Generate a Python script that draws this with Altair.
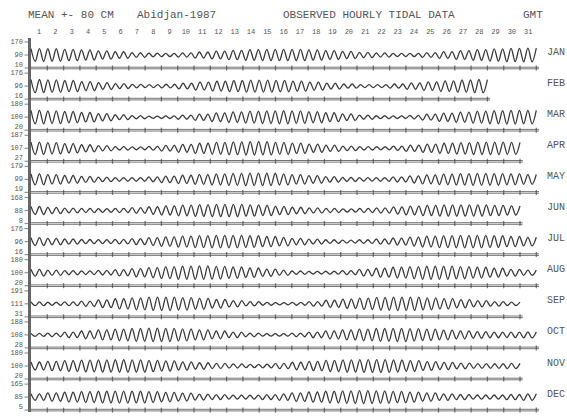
import altair as alt
import numpy as np
import pandas as pd

# ---- data -----------------------------------------------------------------
MONTHS = ["JAN", "FEB", "MAR", "APR", "MAY", "JUN",
          "JUL", "AUG", "SEP", "OCT", "NOV", "DEC"]
DAYS_IN_MONTH = [31, 28, 31, 30, 31, 30, 31, 31, 30, 31, 30, 31]
MONTHLY_MEAN_CM = [90, 96, 100, 107, 99, 88, 96, 100, 111, 108, 100, 85]
HALF_SPAN_CM = 80
DAY_LABELS = [str(d) for d in range(1, 32)]

# daily tidal range (high water minus low water, cm), one value per day
RANGE_JAN = [79, 77, 70, 62, 51, 40, 28, 22, 21, 26, 37, 48, 58, 65, 69, 70,
             69, 63, 55, 44, 33, 25, 19, 21, 30, 42, 55, 66, 75, 81, 84]
RANGE_FEB = [81, 77, 69, 56, 42, 30, 21, 18, 23, 35, 48, 60, 69, 74, 74, 70,
             62, 49, 37, 26, 19, 19, 26, 40, 53, 65, 75, 81]
RANGE_MAR = [83, 79, 70, 58, 44, 30, 19, 14, 16, 25, 39, 53, 65, 74, 79, 81,
             77, 69, 55, 40, 26, 18, 16, 23, 37, 51, 63, 74, 81, 84, 83]
RANGE_APR = [76, 69, 58, 44, 32, 21, 18, 23, 35, 49, 62, 72, 79, 83, 81, 74,
             63, 51, 39, 28, 21, 19, 26, 39, 51, 62, 70, 76, 77, 74]
RANGE_MAY = [67, 58, 48, 37, 28, 23, 23, 30, 40, 51, 60, 69, 74, 77, 76, 69,
             58, 46, 35, 26, 21, 23, 32, 44, 56, 65, 70, 74, 72, 67, 60]
RANGE_JUN = [49, 39, 30, 25, 23, 26, 35, 46, 56, 65, 72, 76, 76, 70, 62, 51,
             40, 32, 25, 21, 25, 33, 44, 55, 63, 69, 70, 69, 63, 56]
RANGE_JUL = [48, 39, 32, 26, 25, 28, 37, 48, 58, 67, 74, 77, 77, 72, 63, 53,
             40, 30, 23, 19, 23, 32, 44, 56, 67, 74, 77, 77, 72, 63, 53]
RANGE_AUG = [42, 32, 25, 23, 28, 39, 51, 63, 74, 81, 83, 79, 70, 58, 44, 32,
             21, 16, 18, 26, 40, 55, 67, 76, 81, 81, 76, 67, 55, 42, 32]
RANGE_SEP = [23, 19, 23, 33, 48, 62, 74, 81, 83, 77, 67, 53, 39, 26, 18, 14,
             18, 28, 44, 58, 70, 79, 83, 81, 74, 63, 51, 39, 28, 21]
RANGE_OCT = [19, 23, 33, 48, 62, 72, 79, 83, 81, 74, 62, 48, 33, 23, 16, 16,
             23, 35, 49, 62, 72, 79, 81, 77, 70, 60, 49, 40, 35, 33, 37]
RANGE_NOV = [49, 58, 67, 72, 76, 77, 76, 70, 62, 51, 40, 32, 25, 21, 23, 33,
             46, 58, 69, 76, 79, 79, 74, 65, 55, 44, 35, 30, 28, 32]
RANGE_DEC = [40, 51, 60, 67, 72, 74, 72, 67, 58, 48, 37, 30, 25, 25, 30, 40,
             53, 63, 72, 77, 79, 77, 70, 62, 51, 40, 32, 26, 26, 32, 40]
DAILY_RANGE_CM = [RANGE_JAN, RANGE_FEB, RANGE_MAR, RANGE_APR, RANGE_MAY,
                  RANGE_JUN, RANGE_JUL, RANGE_AUG, RANGE_SEP, RANGE_OCT,
                  RANGE_NOV, RANGE_DEC]

HALF_TIDE_HOURS = 6.21      # time between successive high and low water

# ---- layout (scale geometry) ----------------------------------------------
W, H = 567, 417
PX_PER_HOUR = 16.3 / 24
PX_PER_CM = 0.1625
ROW_CM = 31.1 / PX_PER_CM          # vertical distance between month strips
X_MIN = -31 / PX_PER_HOUR
X_MAX = X_MIN + W / PX_PER_HOUR
Y_TOP = 55 / PX_PER_CM
Y_BOT = Y_TOP - H / PX_PER_CM

FONT = "Liberation Mono"
INK = "#3a3a3a"
TEXT = "#555555"
RULE = "#666666"

# ---- tables ---------------------------------------------------------------
tide_rows, base_rows, tick_rows, lab_rows = [], [], [], []
for i, (m, nd, mean, rng) in enumerate(
        zip(MONTHS, DAYS_IN_MONTH, MONTHLY_MEAN_CM, DAILY_RANGE_CM)):
    hours = nd * 24
    offset = -i * ROW_CM
    n = int(round(hours / HALF_TIDE_HOURS))
    for j, t in enumerate(np.linspace(0, hours, n + 1)):
        day = min(int(t // 24), nd - 1)
        sign = 1 if j % 2 == 0 else -1
        level = mean + sign * rng[day] / 2
        tide_rows.append({"month": m, "hour": t, "level": level,
                          "ypos": level - mean + offset})
    base_rows.append({"month": m, "h0": -2.0, "h1": hours + 4,
                      "ypos": -HALF_SPAN_CM + offset})
    for d in range(1, nd + 1):
        tick_rows.append({"month": m, "hour": d * 24,
                          "ypos": -HALF_SPAN_CM + offset})
    for kind, v in (("top", mean + HALF_SPAN_CM), ("mid", mean),
                    ("bot", mean - HALF_SPAN_CM)):
        lab_rows.append({"month": m, "kind": kind, "label": str(v),
                         "ypos": v - mean + offset})

tide = pd.DataFrame(tide_rows)
base = pd.DataFrame(base_rows)
ticks = pd.DataFrame(tick_rows)
labs = pd.DataFrame(lab_rows)
days = pd.DataFrame({"label": DAY_LABELS,
                     "hour": [(int(d) - 0.5) * 24 for d in DAY_LABELS]})
months = pd.DataFrame({"month": MONTHS,
                       "ypos": [-i * ROW_CM for i in range(12)]})

xs = alt.Scale(domain=[X_MIN, X_MAX], nice=False, zero=False)
ys = alt.Scale(domain=[Y_BOT, Y_TOP], nice=False, zero=False)


def X(f):
    return alt.X(f, type="quantitative", scale=xs, axis=None)


def Y(f):
    return alt.Y(f, type="quantitative", scale=ys, axis=None)


curves = alt.Chart(tide).mark_line(
    interpolate="monotone", color=INK, strokeWidth=1.3
).encode(x=X("hour"), y=Y("ypos"), detail="month:N")

# each strip's time axis is a pair of thin parallel lines
baselines = [
    alt.Chart(base).mark_rule(color=RULE, strokeWidth=0.9, yOffset=off).encode(
        x=X("h0"), x2="h1", y=Y("ypos"))
    for off in (-0.8, 0.8)
]

day_ticks = alt.Chart(ticks).mark_tick(
    orient="vertical", size=5, thickness=1.3, color="#444444"
).encode(x=X("hour"), y=Y("ypos"))

left_axis = alt.Chart(months).mark_rule(color=RULE, strokeWidth=2).encode(
    x=alt.value(29.5), y=alt.value(38), y2=alt.value(412))

left_ticks = alt.Chart(labs).mark_tick(
    orient="horizontal", size=5, thickness=1.2, color=RULE
).encode(x=alt.value(27), y=Y("ypos"))

ylab_main = alt.Chart(labs).transform_filter("datum.kind != 'bot'").mark_text(
    align="right", baseline="middle", font=FONT, fontSize=7, color=TEXT
).encode(x=alt.value(23), y=Y("ypos"), text="label:N")

ylab_bot = alt.Chart(labs).transform_filter("datum.kind == 'bot'").mark_text(
    align="right", baseline="middle", font=FONT, fontSize=7, color=TEXT, dy=-3
).encode(x=alt.value(23), y=Y("ypos"), text="label:N")

day_labels = alt.Chart(days).mark_text(
    align="center", baseline="middle", font=FONT, fontSize=7, color=TEXT
).encode(x=X("hour"), y=alt.value(32), text="label:N")

month_labels = alt.Chart(months).mark_text(
    align="left", baseline="middle", font=FONT, fontSize=10, color=TEXT, dy=-3.5
).encode(x=alt.value(547), y=Y("ypos"), text="month:N")

titles = pd.DataFrame({
    "text": ["MEAN +- 80 CM", "Abidjan-1987",
             "OBSERVED HOURLY TIDAL DATA", "GMT"],
    "px": [28, 137, 283, 523],
})
title_marks = [
    alt.Chart(titles.iloc[[k]]).mark_text(
        align="left", baseline="middle", font=FONT, fontSize=11, color=TEXT
    ).encode(x=alt.value(float(titles.px.iloc[k])), y=alt.value(15),
             text="text:N")
    for k in range(len(titles))
]

chart = alt.layer(
    *baselines, day_ticks, left_axis, left_ticks, curves,
    ylab_main, ylab_bot, day_labels, month_labels, *title_marks
).properties(
    width=W, height=H, padding=0, autosize=alt.AutoSizeParams(type="none"),
    background="white"
).configure_view(stroke=None)

chart.save("out.html", embed_options={"renderer": "svg", "actions": False})
